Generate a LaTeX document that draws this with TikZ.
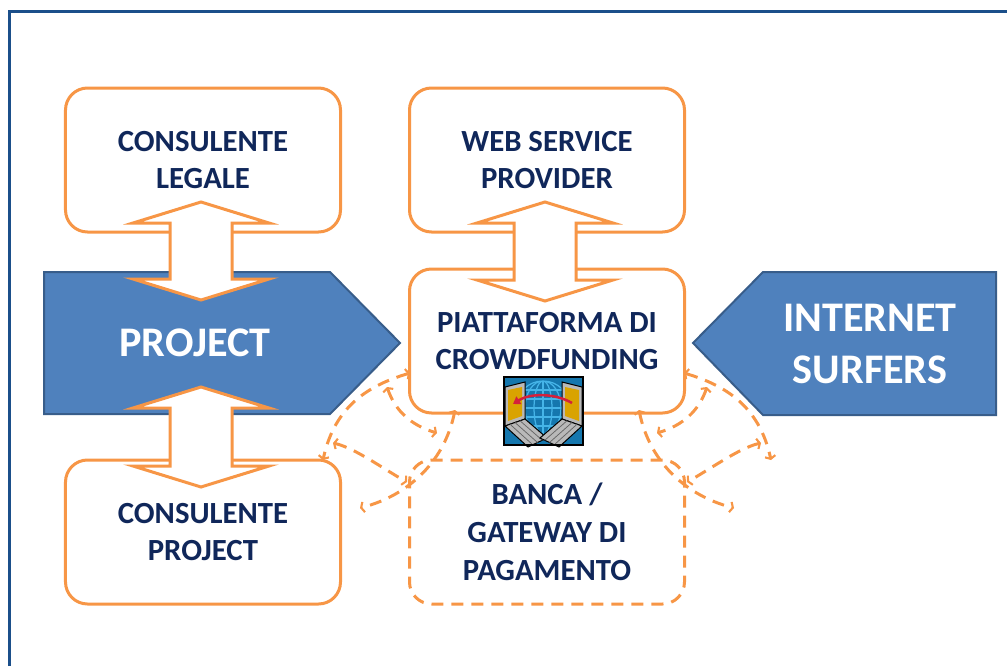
\documentclass[tikz,border=0pt]{standalone}
\usepackage{fontspec}
\setmainfont{Carlito}
\usetikzlibrary{arrows.meta}

\definecolor{boxorange}{HTML}{F79646}
\definecolor{navytext}{HTML}{10275A}
\definecolor{shapeblue}{HTML}{4F81BD}
\definecolor{shapeedge}{HTML}{385D8A}
\definecolor{framecol}{HTML}{1B4F8A}
\definecolor{icoback}{HTML}{1577AE}
\definecolor{globeline}{HTML}{45B4E8}
\definecolor{screenyellow}{HTML}{D9A300}
\definecolor{keygrey}{HTML}{B9B9B9}
\definecolor{arrowred}{HTML}{D4203C}

\newcommand{\boxfont}{\fontsize{17.5}{21.5}\selectfont\bfseries}
\newcommand{\bigfont}{\fontsize{24}{29.5}\selectfont\bfseries}

% center x, top tip y, bottom tip y
\newcommand{\dblarrow}[3]{%
  \draw[blockarrow] (#1,#2) -- ({#1+68},{#2+21}) -- ({#1+31},{#2+21})
    -- ({#1+31},{#3-21}) -- ({#1+68},{#3-21}) -- (#1,#3)
    -- ({#1-68},{#3-21}) -- ({#1-31},{#3-21}) -- ({#1-31},{#2+21})
    -- ({#1-68},{#2+21}) -- cycle;}

\tikzset{
  box/.style={rectangle, rounded corners=4.4mm, draw=boxorange, line width=0.6mm,
    fill=white, minimum width=55mm, minimum height=28.8mm, align=center,
    text=navytext, font=\boxfont},
  dashbox/.style={box, dash pattern=on 2.4mm off 1.6mm},
  blueshape/.style={fill=shapeblue, draw=shapeedge, line width=0.4mm},
  bigtext/.style={text=white, font=\bigfont, align=center},
  blockarrow/.style={draw=boxorange, fill=white, line width=0.6mm, line join=miter},
  linkline/.style={draw=boxorange, line width=0.6mm, dash pattern=on 2.4mm off 1.6mm,
    {Straight Barb[length=1.5pt,width=6pt,line width=1.2pt]}-{Straight Barb[length=1.5pt,width=6pt,line width=1.2pt]}},
  frameline/.style={draw=framecol, line width=0.6mm},
  globeline/.style={draw=globeline, line width=0.25mm}
}

\begin{document}
\begin{tikzpicture}[x=0.2mm, y=-0.2mm]
\useasboundingbox (0,0) rectangle (1007,666);
\draw[frameline] (9,666) |- (1007,11);

% boxes
\node[box] (legale) at (203,160) {CONSULENTE\\LEGALE};
\node[box] (web) at (547,160) {WEB SERVICE\\PROVIDER};
\node[box] (piatt) at (547,341) {PIATTAFORMA DI\\CROWDFUNDING};
\node[box] (cproject) at (203,532) {CONSULENTE\\PROJECT};
\node[dashbox] (banca) at (547,532) {BANCA /\\GATEWAY DI\\PAGAMENTO};

% blue shapes
\draw[blueshape] (44,272) -- (330,272) -- (400,343) -- (330,414) -- (44,414) -- cycle;
\node[bigtext] (project) at (195,343) {PROJECT};
\draw[blueshape] (996,272) -- (763,272) -- (693,343) -- (763,415) -- (996,415) -- cycle;
\node[bigtext] (surfers) at (870,344) {INTERNET\\SURFERS};

% double arrows
\dblarrow{201}{202}{300}
\dblarrow{545}{202}{301}
\dblarrow{201}{387}{487}

% dashed links, both sides
\foreach \side/\s in {l/1, r/-1} {
  \begin{scope}[shift={(547,0)}, xscale=\s]
    \coordinate (a1\side) at (-137,373);
    \coordinate (b1\side) at (-224,460);
    \coordinate (a2\side) at (-92,410);
    \coordinate (b2\side) at (-187,508);
    \coordinate (a3\side) at (-160,387);
    \coordinate (b3\side) at (-110,433);
    \coordinate (a4\side) at (-214,443);
    \coordinate (b4\side) at (-140,482);
    \draw[linkline] (a1\side) .. controls (-177,385) and (-212,405) .. (b1\side);
    \draw[linkline] (a2\side) .. controls (-102,460) and (-137,495) .. (b2\side);
    \draw[linkline] (a3\side) .. controls (-152,410) and (-137,425) .. (b3\side);
    \draw[linkline] (a4\side) .. controls (-192,448) and (-162,470) .. (b4\side);
  \end{scope}
}

% icon
\fill[icoback] (504,377) rectangle (583,445);
\begin{scope}
  \clip (543,408) circle (27);
  \foreach \dy in {-18,-9,0,9,18}
    \draw[globeline] (510,408+\dy) -- (576,408+\dy);
  \foreach \rx in {9,18}
    \draw[globeline] (543,408) ellipse ({\rx} and 27);
  \draw[globeline] (543,381) -- (543,435);
\end{scope}
\draw[globeline] (543,408) circle (27);
\foreach \s in {1,-1} {
  \begin{scope}[shift={(543.5,0)}, xscale=\s]
    \filldraw[fill=keygrey, draw=black, line width=0.2mm] (-38.5,387) -- (-18.5,382) -- (-18.5,419) -- (-38.5,426) -- cycle;
    \fill[screenyellow] (-35.5,390) -- (-21.5,387) -- (-21.5,416) -- (-35.5,421) -- cycle;
    \filldraw[fill=keygrey, draw=black, line width=0.2mm] (-38.5,426) -- (-18.5,419) -- (3.5,438) -- (-15.5,447) -- cycle;
    \foreach \t in {0.25,0.5,0.75}
      \draw[black!60, line width=0.15mm] ({-38.5+20*\t},{426-7*\t}) -- ({-15.5+19*\t},{447-9*\t});
  \end{scope}
}
\draw[arrowred, line width=0.5mm, -{Triangle[length=4pt,width=5pt]}] (572,403) .. controls (555,393) and (530,393) .. (513,404);
\draw[black, line width=0.25mm] (504,377) rectangle (583,445);
\end{tikzpicture}
\end{document}
